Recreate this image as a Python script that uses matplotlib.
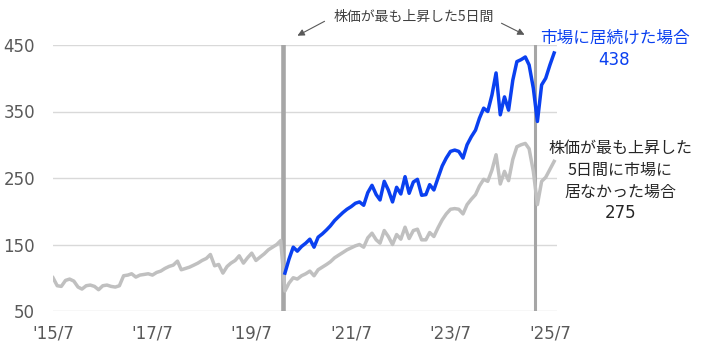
import pandas as pd
import matplotlib.pyplot as plt

plt.rcParams['font.family'] = ['Noto Sans CJK JP', 'DejaVu Sans']

# month-end dates, '15/7 to '25/8
dates = pd.date_range("2015-07-31", periods=122, freq="ME")

# index value when staying out of the market on the best 5 days (gray, full period)
gray = [
    100, 88, 87, 96, 98, 95, 86, 83, 88, 89, 87, 82,
    88, 89, 87, 86, 88, 103, 104, 106, 101, 104, 105, 106,
    104, 108, 110, 114, 117, 119, 125, 112, 114, 116, 119, 122,
    126, 129, 135, 118, 120, 107, 117, 122, 126, 133, 122, 130,
    137, 126, 131, 136, 142, 146, 150, 156,
    80, 92, 100, 98, 103, 106, 110, 103, 112, 116, 120, 124,
    130, 134, 138, 142, 145, 148, 150, 146, 160, 167, 157, 152,
    171, 162, 150, 165, 158, 176, 159, 171, 173, 157, 157, 168,
    162, 175, 187, 196, 203, 204, 203, 196, 210, 218, 225, 238,
    248, 245, 262, 285, 241, 260, 246, 278, 297, 300, 302, 294,
    260, 210, 245, 251, 263, 275,
]

# index value when staying invested (blue, from 2020/3)
blue_start = 56
blue = [
    107, 128, 146, 140, 147, 152, 158, 146, 161, 166, 172, 178,
    186, 192, 198, 203, 207, 212, 214, 209, 228, 239, 225, 217,
    245, 232, 214, 236, 226, 252, 227, 244, 248, 224, 225, 240,
    232, 250, 268, 280, 290, 292, 290, 280, 300, 312, 322, 340,
    355, 350, 375, 408, 345, 372, 352, 397, 425, 428, 432, 420,
    385, 335, 390, 400, 420, 438,
]

# the best 5 days (March 2020 and April 2025)
best_days = ["2020-03-15", "2025-04-15"]
bar_widths = [3.3, 2.2]

tick_dates = pd.to_datetime(["2015-07-31", "2017-07-31", "2019-07-31",
                             "2021-07-31", "2023-07-31", "2025-07-31"])
tick_labels = ["'15/7", "'17/7", "'19/7", "'21/7", "'23/7", "'25/7"]

blue_c = '#0a40f0'

fig = plt.figure(figsize=(7.05, 3.5), dpi=100)
ax = fig.add_axes([53 / 705, 1 - 311 / 350, 504 / 705, 266 / 350])

for y in [50, 150, 250, 350, 450]:
    ax.axhline(y, color='#d9d9d9', lw=1, zorder=0)

for d, w in zip(best_days, bar_widths):
    ax.axvline(pd.Timestamp(d), color='#a6a6a6', lw=w, zorder=1)

ax.plot(dates, gray, color='#c0c0c0', lw=2.5, zorder=2)
ax.plot(dates[blue_start:], blue, color=blue_c, lw=2.5, zorder=3)

ax.set_xlim(pd.Timestamp("2015-07-31"), pd.Timestamp("2025-09-21"))
ax.set_ylim(50, 450)
ax.set_yticks([50, 150, 250, 350, 450])
ax.set_xticks(tick_dates)
ax.set_xticklabels(tick_labels)
for s in ax.spines.values():
    s.set_visible(False)
ax.tick_params(length=0, labelsize=12, colors='#595959', pad=10)
ax.tick_params(axis='y', pad=13)
for lab in ax.get_xticklabels() + ax.get_yticklabels():
    lab.set_family('DejaVu Sans')

# annotation at the top
fig.text(414 / 705, 1 - 17 / 350, "株価が最も上昇した5日間", ha='center', va='center',
         fontsize=10, color='#404040')
arrow = dict(arrowstyle='-|>', color='#595959', lw=0.8, mutation_scale=10)
ax.annotate('', xy=(295, 350 - 37), xytext=(327, 350 - 20),
            xycoords='figure pixels', textcoords='figure pixels', arrowprops=arrow)
ax.annotate('', xy=(527, 350 - 36), xytext=(499, 350 - 22),
            xycoords='figure pixels', textcoords='figure pixels', arrowprops=arrow)

# end labels
fig.text(615 / 705, 1 - 38 / 350, "市場に居続けた場合", ha='center', va='center',
         fontsize=12, color=blue_c)
fig.text(614 / 705, 1 - 60 / 350, "438", ha='center', va='center',
         fontsize=12, color=blue_c, family='DejaVu Sans')
gray_lines = ["株価が最も上昇した", "5日間に市場に", "居なかった場合"]
for k, line in enumerate(gray_lines):
    fig.text(620 / 705, 1 - (148 + 22 * k) / 350, line, ha='center', va='center',
             fontsize=11.5, color='#262626')
fig.text(621 / 705, 1 - 213 / 350, "275", ha='center', va='center',
         fontsize=12, color='#262626', family='DejaVu Sans')

plt.savefig("out.png", dpi=100)
